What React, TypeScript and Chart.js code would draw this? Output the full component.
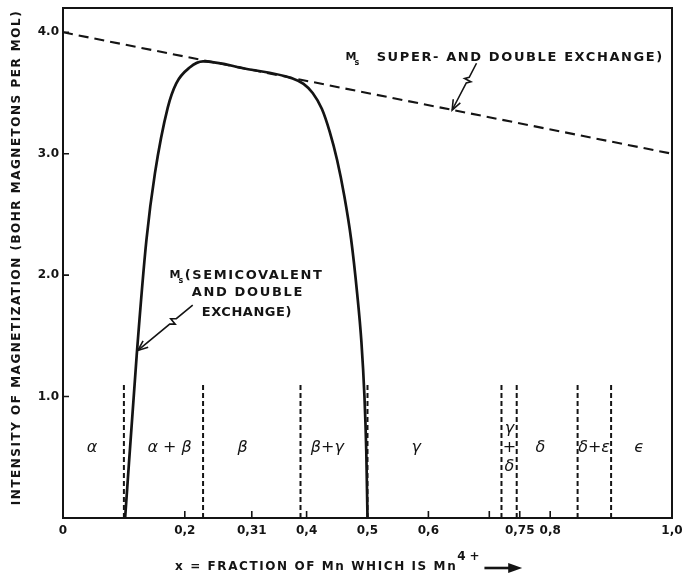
import React, { useEffect, useRef } from 'react';
import { Chart, registerables } from 'chart.js';

Chart.register(...registerables);

// ---- data ----
const exchangeX = [0, 1.0];
const exchangeY = [4.0, 3.0];

const curveX = [0.102, 0.121, 0.137, 0.151, 0.172, 0.186, 0.208, 0.23, 0.3, 0.377, 0.395, 0.41, 0.425, 0.438, 0.45, 0.462, 0.473, 0.483, 0.49, 0.495, 0.498, 0.5];
const curveY = [0, 1.34, 2.29, 2.84, 3.38, 3.58, 3.71, 3.76, 3.7, 3.62, 3.575, 3.5, 3.37, 3.18, 2.95, 2.65, 2.3, 1.85, 1.45, 1.0, 0.55, 0];

const phaseBoundaries = [0.1, 0.23, 0.39, 0.5, 0.72, 0.745, 0.845, 0.9];
const phaseBoundaryTop = 1.1;

const phaseNames = ['α', 'α + β', 'β', 'β+γ', 'γ', 'γ\n+\nδ', 'δ', 'δ+ε', 'ϵ'];
const phaseNameX = [0.0475, 0.175, 0.295, 0.434, 0.58, 0.733, 0.784, 0.872, 0.946];
const phaseNameY = 0.58;

const xTickValues = [0, 0.2, 0.31, 0.4, 0.5, 0.6, 0.75, 0.8, 1.0];
const xTickLabels = ['0', '0,2', '0,31', '0,4', '0,5', '0,6', '0,75', '0,8', '1,0'];
const xTickMarks = [0.2, 0.31, 0.4, 0.6, 0.7, 0.75, 0.8];
const yTickValues = [1, 2, 3, 4];
const yTickLabels = ['1.0', '2.0', '3.0', '4.0'];

const yTitle = 'INTENSITY OF MAGNETIZATION (BOHR MAGNETONS PER MOL)';
const xTitle = 'x = FRACTION OF Mn WHICH IS Mn';
const xTitleSup = '4+';
const note1 = ['SUPER- AND DOUBLE EXCHANGE)'];
const note2 = ['(SEMICOVALENT', 'AND DOUBLE', 'EXCHANGE)'];

const FONT = '"DejaVu Sans", "Liberation Sans", sans-serif';
const INK = '#141414';

function fitText(ctx: CanvasRenderingContext2D, text: string, x: number, y: number, width: number) {
  (ctx as any).letterSpacing = '0px';
  const w = ctx.measureText(text).width;
  const ls = (width - w) / Math.max(text.length - 1, 1);
  (ctx as any).letterSpacing = ls.toFixed(2) + 'px';
  ctx.textAlign = 'left';
  ctx.fillText(text, x, y);
  (ctx as any).letterSpacing = '0px';
}

function drawNoteArrow(ctx: CanvasRenderingContext2D, sx: number, sy: number, tx: number, ty: number) {
  const dx = tx - sx, dy = ty - sy;
  const len = Math.hypot(dx, dy);
  const ux = dx / len, uy = dy / len;
  const px = -uy, py = ux;
  const at = (t: number, off: number): [number, number] => [sx + dx * t + px * off, sy + dy * t + py * off];
  ctx.save();
  ctx.strokeStyle = INK;
  ctx.lineWidth = 1.6;
  ctx.beginPath();
  ctx.moveTo(sx, sy);
  ctx.lineTo(...at(0.3, 0));
  ctx.lineTo(...at(0.36, 3.5));
  ctx.lineTo(...at(0.36, -3.5));
  ctx.lineTo(...at(0.42, 0));
  ctx.lineTo(tx, ty);
  ctx.stroke();
  const hl = 10, hw = 4;
  ctx.beginPath();
  ctx.moveTo(tx - ux * hl + px * hw, ty - uy * hl + py * hw);
  ctx.lineTo(tx, ty);
  ctx.lineTo(tx - ux * hl - px * hw, ty - uy * hl - py * hw);
  ctx.stroke();
  ctx.restore();
}

function drawMs(ctx: CanvasRenderingContext2D, x: number, y: number) {
  ctx.textAlign = 'left';
  ctx.font = `bold 11px ${FONT}`;
  ctx.fillText('M', x, y);
  ctx.font = `bold 8px ${FONT}`;
  ctx.fillText('s', x + 9, y + 6);
  ctx.font = `bold 13px ${FONT}`;
}

const decor = {
  id: 'decor',
  afterDraw(chart: any) {
    const { ctx, chartArea } = chart;
    const xs = chart.scales.x;
    const ys = chart.scales.y;
    const X = (v: number) => xs.getPixelForValue(v);
    const Y = (v: number) => ys.getPixelForValue(v);
    const { left, right, top, bottom } = chartArea;
    ctx.save();
    // frame
    ctx.strokeStyle = INK;
    ctx.lineWidth = 2;
    ctx.strokeRect(left, top, right - left, bottom - top);
    // tick marks (inside)
    ctx.lineWidth = 1.6;
    ctx.beginPath();
    xTickMarks.forEach((v) => {
      ctx.moveTo(X(v), bottom);
      ctx.lineTo(X(v), bottom - 7);
    });
    yTickValues.forEach((v) => {
      ctx.moveTo(left, Y(v));
      ctx.lineTo(left + 6, Y(v));
    });
    ctx.stroke();

    ctx.fillStyle = INK;
    // phase names
    ctx.font = `italic 16px ${FONT}`;
    ctx.textAlign = 'center';
    ctx.textBaseline = 'middle';
    phaseNames.forEach((name, i) => {
      const lines = name.split('\n');
      const cx = X(phaseNameX[i]);
      const cy = Y(phaseNameY);
      lines.forEach((ln, k) => {
        const off = (k - (lines.length - 1) / 2) * 19;
        ctx.fillText(ln, cx, cy + off);
      });
    });

    // annotation 1
    ctx.textBaseline = 'middle';
    const a1y = Y(3.794);
    drawMs(ctx, X(0.464), a1y);
    fitText(ctx, note1[0], X(0.515), a1y, X(0.984) - X(0.515));
    drawNoteArrow(ctx, X(0.679), Y(3.745), X(0.639), Y(3.36));

    // annotation 2
    const a2y = [Y(2.0), Y(1.852), Y(1.695)];
    const a2x0 = [0.2, 0.2115, 0.228];
    const a2x1 = [0.425, 0.393, 0.375];
    drawMs(ctx, X(0.175), a2y[0]);
    note2.forEach((ln, i) => fitText(ctx, ln, X(a2x0[i]), a2y[i], X(a2x1[i]) - X(a2x0[i])));
    drawNoteArrow(ctx, X(0.213), Y(1.753), X(0.123), Y(1.38));

    // x title
    ctx.font = `bold 12px ${FONT}`;
    const ty = bottom + 49;
    fitText(ctx, xTitle, X(0.184), ty, X(0.645) - X(0.184));
    ctx.font = `bold 12px ${FONT}`;
    fitText(ctx, xTitleSup, X(0.6475), ty - 10, X(0.684) - X(0.6475));
    // arrow after title
    const ax0 = X(0.692), ax1 = X(0.754);
    ctx.lineWidth = 2.6;
    ctx.beginPath();
    ctx.moveTo(ax0, ty + 1);
    ctx.lineTo(ax1 - 10, ty + 1);
    ctx.stroke();
    ctx.beginPath();
    ctx.moveTo(ax1, ty + 1);
    ctx.lineTo(ax1 - 14, ty - 4);
    ctx.lineTo(ax1 - 14, ty + 6);
    ctx.closePath();
    ctx.fill();

    // y title
    ctx.save();
    ctx.translate(left - 46, Y(2.14));
    ctx.rotate(-Math.PI / 2);
    ctx.font = `bold 12px ${FONT}`;
    ctx.textBaseline = 'middle';
    fitText(ctx, yTitle, -247, 0, 494);
    ctx.restore();

    ctx.restore();
  },
};

export default function App() {
  const ref = useRef<HTMLCanvasElement>(null);
  useEffect(() => {
    const canvas = ref.current;
    if (!canvas) return;
    const datasets: any[] = [
      {
        label: 'Ms (semicovalent and double exchange)',
        data: curveX.map((x, i) => ({ x, y: curveY[i] })),
        borderColor: INK,
        borderWidth: 2.7,
        pointRadius: 0,
        fill: false,
        cubicInterpolationMode: 'monotone',
      },
      {
        label: 'Ms (super- and double exchange)',
        data: exchangeX.map((x, i) => ({ x, y: exchangeY[i] })),
        borderColor: INK,
        borderWidth: 2.1,
        borderDash: [10, 6],
        pointRadius: 0,
        fill: false,
        tension: 0,
      },
      ...phaseBoundaries.map((b) => ({
        label: 'phase boundary ' + b,
        data: [
          { x: b, y: 0 },
          { x: b, y: phaseBoundaryTop },
        ],
        borderColor: INK,
        borderWidth: 2,
        borderDash: [5, 3],
        pointRadius: 0,
        fill: false,
      })),
    ];
    const tickFont = { family: FONT, size: 12, weight: 'bold' as const };
    const chart = new Chart(canvas, {
      type: 'line',
      data: { datasets },
      options: {
        responsive: false,
        animation: false,
        events: [],
        layout: { padding: { left: 0, right: 10, top: 8, bottom: 0 } },
        plugins: { legend: { display: false }, tooltip: { enabled: false } },
        scales: {
          x: {
            type: 'linear',
            min: 0,
            max: 1,
            grid: { display: false, drawTicks: false },
            border: { display: false },
            ticks: {
              autoSkip: false,
              maxRotation: 0,
              padding: 6,
              color: INK,
              font: tickFont,
              callback: (_v: any, i: number) => xTickLabels[i] ?? '',
            },
            afterBuildTicks: (s: any) => {
              s.ticks = xTickValues.map((value) => ({ value }));
            },
            afterFit: (s: any) => {
              s.height = 61;
              s.paddingLeft = 0;
              s.paddingRight = 0;
            },
          },
          y: {
            type: 'linear',
            min: 0,
            max: 4.2,
            grid: { display: false, drawTicks: false },
            border: { display: false },
            ticks: {
              padding: 4,
              color: INK,
              font: tickFont,
              callback: (_v: any, i: number) => yTickLabels[i] ?? '',
            },
            afterBuildTicks: (s: any) => {
              s.ticks = yTickValues.map((value) => ({ value }));
            },
            afterFit: (s: any) => {
              s.width = 63;
              s.paddingTop = 0;
              s.paddingBottom = 0;
            },
          },
        },
      } as any,
      plugins: [decor as any],
    });
    return () => chart.destroy();
  }, []);
  return (
    <div style={{ position: 'fixed', left: 0, top: 0, width: 682, height: 579, background: '#fff' }}>
      <canvas ref={ref} width={682} height={579} style={{ display: 'block', width: 682, height: 579 }} />
    </div>
  );
}
